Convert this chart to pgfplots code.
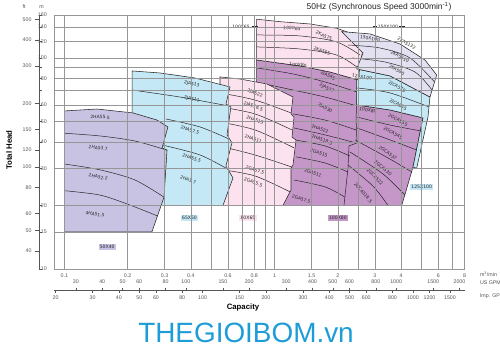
\documentclass[border=0pt]{standalone}
\usepackage{pgfplots}
\pgfplotsset{compat=1.18}
\usepackage{fontspec}
\setmainfont{Liberation Sans}
\newfontfamily\labfont{DejaVu Sans}
\definecolor{lavA}{RGB}{200,195,227}
\definecolor{blueA}{RGB}{196,232,246}
\definecolor{pinkA}{RGB}{252,226,238}
\definecolor{purA}{RGB}{197,150,200}
\definecolor{lavB}{RGB}{226,224,241}
\definecolor{gridc}{RGB}{150,150,150}
\definecolor{tickc}{RGB}{85,85,85}
\definecolor{brand}{RGB}{30,156,216}
\tikzset{
  lab/.style={font=\labfont\fontsize{4.5}{4.5}\selectfont, text=black!85, inner sep=0pt},
  box/.style={font=\labfont\fontsize{4.6}{5}\selectfont, text=black!85, inner sep=1.2pt},
  reg/.style={draw=black!85, line width=0.55pt},
  dv/.style={black!85, line width=0.5pt, smooth},
}
\begin{document}
\begin{tikzpicture}[x=1bp,y=1bp]
\path[use as bounding box] (0,0) rectangle (500,361);
\begin{axis}[
  at={(54.3bp,92bp)}, anchor=south west,
  scale only axis, width=410.2bp, height=254.1bp,
  xmode=log, ymode=log,
  xmin=0.08963, xmax=8, ymin=10, ymax=160,
  xtick={0.1,0.2,0.3,0.4,0.6,0.8,1,1.5,2,3,4,6,8},
  xticklabels={0.1,0.2,0.3,0.4,0.6,0.8,1,1.5,2,3,4,6,8},
  minor xtick={0.5,0.7,0.9,2.5,5,7},
  ytick={10,15,20,30,40,50,60,80,100,120,140,160},
  yticklabels={10,15,20,30,40,50,60,80,100,120,140,160},
  minor ytick={70,90},
  grid=both,
  major grid style={gridc, line width=0.5pt},
  minor grid style={gridc, line width=0.5pt},
  major tick length=0pt, minor tick length=0pt,
  axis line style={gridc, line width=0.6pt},
  tick label style={font=\fontsize{5.3}{6}\selectfont, text=tickc},
  /pgf/number format/assume math mode=true,
  xticklabel style={yshift=-1.5bp},
  yticklabel style={xshift=-4bp},
  axis on top,
]
% ---------- purple 100x80 (big) ----------
\addplot[reg, fill=purA] coordinates {(0.822,20) (0.822,97.8) (1.321,91.7) (1.834,85.8) (2.493,78.7) (2.457,59.9) (3.538,56.7) (5.078,52.0) (4.551,30.4) (4.022,20)} -- cycle;
\addplot[dv] coordinates {(0.822,89.7) (1.223,84.0) (1.737,77.0) (2.465,69.0)};
\addplot[dv] coordinates {(0.900,75.3) (1.223,70.5) (1.737,65.3) (2.465,59.2)};
\addplot[dv] coordinates {(1.223,54.3) (1.737,50.8) (2.439,45.6)};
\addplot[dv] coordinates {(1.237,46.6) (1.737,43.2) (2.439,39.6)};
\addplot[dv] coordinates {(1.25,40.9) (1.737,38.3) (2.283,34.3)};
\addplot[dv] coordinates {(1.264,34.0) (1.737,31.8) (2.234,28.8)};
\addplot[dv] coordinates {(1.237,26.4) (1.737,24.5) (2.162,21.9)};
\addplot[black!85, line width=0.5pt] coordinates {(2.493,78.7) (2.439,52.0) (2.465,39.6) (2.258,38.3) (2.234,30.1) (2.138,20)};
\addplot[dv] coordinates {(2.465,52.5) (3.538,48.1) (4.967,45.1)};
\addplot[dv] coordinates {(2.465,46.6) (3.538,40.9) (4.755,36.6)};
\addplot[dv] coordinates {(2.412,40.9) (3.461,33.6) (4.502,28.8)};
\addplot[dv] coordinates {(2.283,35.85) (3.278,28.2) (4.169,22.4)};
\addplot[dv] coordinates {(2.234,31.1) (2.938,24.7) (3.461,20)};
% ---------- blue 125x100 ----------
\addplot[reg, fill=blueA] coordinates {(2.457,88.7) (3.538,82.2) (5.482,65.3) (5.363,52.5) (4.739,30.0) (4.551,30.4) (5.078,52.0) (3.538,56.7) (2.457,59.9)} -- cycle;
\addplot[dv] coordinates {(2.465,72.1) (3.538,68.3) (5.423,58.6)};
% ---------- pink 100x65 ----------
\addplot[reg, fill=pinkA] coordinates {(0.822,97.8) (0.822,152.6) (1.061,148.6) (1.474,144.9) (1.974,138.3) (2.283,131.4) (2.633,111.5) (2.493,78.7) (1.834,85.8) (1.321,91.7)} -- cycle;
\addplot[dv] coordinates {(0.822,128.5) (1.321,127.2) (1.974,119.1) (2.548,103.3)};
\addplot[dv] coordinates {(0.822,112.8) (1.321,110.3) (1.974,103.3) (2.493,89.7)};
% ---------- lavender 150x100 ----------
\addplot[reg, fill=lavB] coordinates {(2.085,133.3) (2.842,130.0) (3.948,116.5) (5.190,97.8) (5.898,83.1) (5.482,65.3) (3.538,82.2) (2.457,88.7) (2.633,105.6) (2.283,121.7)} -- cycle;
\addplot[dv] coordinates {(2.234,115.2) (3.171,111.5) (4.404,100) (5.757,77.0)};
\addplot[dv] coordinates {(2.334,100) (3.350,95.7) (4.652,85.8) (5.602,70.5)};
% ---------- pink 80x65 ----------
\addplot[reg, fill=pinkA] coordinates {(0.550,20) (0.550,81.3) (0.685,79.5) (0.920,75.3) (1.223,65.3) (1.197,54.3) (1.237,52.5) (1.210,42.2) (1.264,40.9) (1.223,31.1) (1.197,30.1) (1.197,23.7) (1.096,20)} -- cycle;
\addplot[dv] coordinates {(0.550,68.3) (0.807,63.2) (1.197,54.9)};
\addplot[dv] coordinates {(0.550,58.6) (0.807,54.3) (1.210,45.6)};
\addplot[dv] coordinates {(0.550,49.7) (0.807,45.6) (1.237,37.5)};
\addplot[dv] coordinates {(0.568,37.9) (0.807,34.7) (1.21,30.4)};
\addplot[dv] coordinates {(0.568,29.5) (0.807,27.6) (1.184,23.2)};
% ---------- blue 65x50 ----------
\addplot[reg, fill=blueA] coordinates {(0.210,20) (0.210,86.8) (0.285,84.9) (0.418,80.4) (0.614,72.9) (0.587,60.5) (0.620,58.6) (0.594,43.2) (0.627,39.6) (0.587,30.8) (0.634,27.0) (0.568,20)} -- cycle;
\addplot[dv] coordinates {(0.210,70.5) (0.355,65.3) (0.607,59.2)};
\addplot[dv] coordinates {(0.304,51.4) (0.442,47.1) (0.607,41.3)};
\addplot[dv] coordinates {(0.292,38.7) (0.442,34.7) (0.607,29.5)};
% ---------- lavender 50x40 ----------
\addplot[reg, fill=lavA] coordinates {(0.1,15) (0.1,56.1) (0.143,57.3) (0.212,54.9) (0.276,50.8) (0.311,47.1) (0.292,37.5) (0.308,36.6) (0.298,21.9) (0.261,15)} -- cycle;
\addplot[dv] coordinates {(0.1,44.0) (0.148,42.7) (0.217,40.4) (0.307,36.6)};
\addplot[dv] coordinates {(0.1,31.45) (0.148,29.5) (0.217,26.4) (0.298,21.9)};
\addplot[dv] coordinates {(0.1,23.5) (0.148,22.4) (0.205,20.1) (0.279,17.8)};
% ---------- leader lines ----------
\addplot[black!85, line width=0.4pt] coordinates {(0.778,140.7) (0.83,140.7)};
\addplot[black!85, line width=0.4pt] coordinates {(2.948,140.7) (4.169,140.7)};
% ---------- labels ----------
\node[lab, rotate=-3] at (axis cs:0.148,52.5) {2HA55.5};
\node[lab, rotate=-8] at (axis cs:0.145,37.5) {2HA53.7};
\node[lab, rotate=-12] at (axis cs:0.145,27.3) {2HA52.2};
\node[lab, rotate=-10] at (axis cs:0.140,18.2) {4HA51.5};
\node[box, fill=lavA] at (axis cs:0.160,12.7) {50X40};
\node[lab, rotate=-12] at (axis cs:0.404,75.3) {2JA513};
\node[lab, rotate=-12] at (axis cs:0.404,63.7) {2JA511};
\node[lab, rotate=-20] at (axis cs:0.396,45.6) {2HA57.5};
\node[lab, rotate=-20] at (axis cs:0.404,33.6) {2HA55.5};
\node[lab, rotate=-20] at (axis cs:0.388,26.4) {2HA3.7};
\node[box, fill=blueA] at (axis cs:0.394,17.4) {65X50};
\node[lab, rotate=-20] at (axis cs:0.807,68.0) {2JA522};
\node[lab, rotate=-20] at (axis cs:0.792,58.8) {2JA518.5};
\node[lab, rotate=-20] at (axis cs:0.807,50.8) {2HA515};
\node[lab, rotate=-20] at (axis cs:0.792,41.3) {2HA511};
\node[lab, rotate=-20] at (axis cs:0.807,29.5) {2GA57.5};
\node[lab, rotate=-20] at (axis cs:0.792,25.8) {2GA55.5};
\node[box, fill=pinkA] at (axis cs:0.747,17.4) {80X65};
\node[lab, rotate=-5] at (axis cs:1.210,138.3) {100X65};
\node[lab, rotate=-25] at (axis cs:1.718,127.2) {2KA575};
\node[lab, rotate=-20] at (axis cs:1.680,107.9) {2KA555};
\node[lab, fill=white, inner sep=0.8pt] at (axis cs:0.692,140.7) {100X65};
\node[lab, rotate=-5] at (axis cs:1.292,92.7) {100X80};
\node[lab, rotate=-25] at (axis cs:1.794,82.2) {2JA545};
\node[lab, rotate=-25] at (axis cs:1.77,71.9) {2JA537};
\node[lab, rotate=-30] at (axis cs:1.737,57.9) {2JA530};
\node[lab, rotate=-20] at (axis cs:1.644,46.1) {2HA522};
\node[lab, rotate=-20] at (axis cs:1.68,40.9) {2HA518.5};
\node[lab, rotate=-20] at (axis cs:1.626,35.5) {2GA515};
\node[lab, rotate=-20] at (axis cs:1.523,28.5) {2GA511};
\node[lab, rotate=-20] at (axis cs:1.34,21.5) {2GA57.5};
\node[box, fill=purA] at (axis cs:2.0,17.4) {100X80};
\node[lab, rotate=-10] at (axis cs:2.842,124.0) {150X100};
\node[lab, rotate=-30] at (axis cs:4.248,117.4) {2KA5132};
\node[lab, rotate=-30] at (axis cs:3.948,101.4) {2KA5110};
\node[lab, rotate=-30] at (axis cs:3.807,87.7) {2KA590};
\node[lab, fill=white, inner sep=0.8pt] at (axis cs:3.461,140.7) {150X100};
\node[lab, rotate=-10] at (axis cs:2.604,81.3) {125X100};
\node[lab, rotate=-30] at (axis cs:3.819,73.1) {2JCA575};
\node[lab, rotate=-30] at (axis cs:3.862,59.9) {2JCA555};
\node[lab, rotate=-10] at (axis cs:2.781,56.7) {100X80};
\node[lab, rotate=-28] at (axis cs:3.862,50.8) {2GCA555};
\node[lab, rotate=-30] at (axis cs:3.656,44.1) {2GCA545};
\node[lab, rotate=-36] at (axis cs:3.461,35.5) {2GCA537};
\node[lab, rotate=-40] at (axis cs:3.278,30.1) {2GCA530};
\node[lab, rotate=-45] at (axis cs:3.00,27.4) {2GCA522};
\node[lab, rotate=-50] at (axis cs:2.64,23.0) {2GCA518.5};
\node[box, fill=blueA] at (axis cs:5.006,24.55) {125X100};
\end{axis}
% ---------- ft scale ----------
\begin{axis}[at={(39bp,92bp)}, anchor=south west, scale only axis, width=1bp, height=254.1bp,
  ymode=log, ymin=32.808, ymax=524.93, xmin=0, xmax=1,
  axis y line=left, axis x line=none,
  y axis line style={-, draw=tickc, line width=0.5pt},
  ytick={40,50,60,80,100,120,150,200,300,400,500},
  yticklabels={40,50,60,80,100,120,150,200,300,400,500},
  tick align=outside, major tick length=4bp, tick style={tickc, line width=0.5pt},
  yticklabel style={font=\fontsize{5.3}{6}\selectfont, text=tickc},
  /pgf/number format/assume math mode=true]
\addplot[draw=none] coordinates {(0,40) (1,100)};
\end{axis}
\begin{axis}[at={(39bp,92bp)}, anchor=south west, scale only axis, width=1bp, height=254.1bp,
  ymode=log, ymin=10, ymax=160, xmin=0, xmax=1,
  axis y line=left, axis x line=none,
  y axis line style={draw=none},
  ytick={10,15,20,30,40,50,60,70,80,90,100,120,140,160}, yticklabels={},
  tick align=inside, major tick length=2.5bp, tick style={tickc, line width=0.5pt}]
\addplot[draw=none] coordinates {(0,20) (1,100)};
\end{axis}
% ---------- US GPM ----------
\begin{axis}[at={(54.3bp,71bp)}, anchor=north west, scale only axis, width=410.2bp, height=10bp,
  xmode=log, xmin=23.678, xmax=2113.4, ymin=0, ymax=1,
  axis x line=top, axis y line=none,
  x axis line style={-, draw=tickc, line width=0.5pt},
  xtick={30,40,50,60,80,100,150,200,300,400,500,600,800,1000,1500,2000},
  xticklabels={30,40,50,60,80,100,150,200,300,400,500,600,800,1000,1500,2000},
  tick align=outside, major tick length=2.5bp, tick style={tickc, line width=0.5pt},
  xticklabel style={font=\fontsize{5.3}{6}\selectfont, text=tickc},
  /pgf/number format/assume math mode=true]
\addplot[draw=none] coordinates {(100,0.5) (200,0.5)};
\end{axis}
% ---------- Imp GPM ----------
\begin{axis}[at={(54.3bp,71bp)}, anchor=south west, scale only axis, width=410.2bp, height=10bp,
  xmode=log, xmin=19.716, xmax=1759.75, ymin=0, ymax=1,
  axis x line=bottom, axis y line=none,
  x axis line style={-, draw=tickc, line width=0.5pt},
  xtick={20,30,40,50,60,80,100,150,200,300,400,500,600,800,1000,1200,1500},
  xticklabels={20,30,40,50,60,80,100,150,200,300,400,500,600,800,1000,1200,1500},
  tick align=outside, major tick length=2.5bp, tick style={tickc, line width=0.5pt},
  xticklabel style={font=\fontsize{5.3}{6}\selectfont, text=tickc},
  /pgf/number format/assume math mode=true]
\addplot[draw=none] coordinates {(100,0.5) (200,0.5)};
\end{axis}
% ---------- texts ----------
\node[font=\fontsize{8.5}{9}\selectfont, text=black!85] at (379,354) {50Hz (Synchronous Speed 3000min\textsuperscript{-1})};
\node[font=\fontsize{5.3}{6}\selectfont, text=tickc] at (24,354) {ft};
\node[font=\fontsize{5.3}{6}\selectfont, text=tickc] at (41.5,354) {m};
\node[font=\bfseries\fontsize{7.8}{8}\selectfont, rotate=90] at (9,211) {Total Head};
\node[font=\bfseries\fontsize{7.8}{8}\selectfont] at (243,53.7) {Capacity};
\node[font=\fontsize{5.3}{6}\selectfont, text=tickc, anchor=west] at (476.5,87) {m\textsuperscript{3}/min};
\node[font=\fontsize{5.3}{6}\selectfont, text=tickc, anchor=west] at (476.5,78.3) {US GPM};
\node[font=\fontsize{5.3}{6}\selectfont, text=tickc, anchor=west] at (476.5,65) {Imp. GPM};
\node[font=\fontsize{28}{30}\selectfont, text=brand] at (246,28.3) {THEGIOIBOM.vn};
\end{tikzpicture}
\end{document}
